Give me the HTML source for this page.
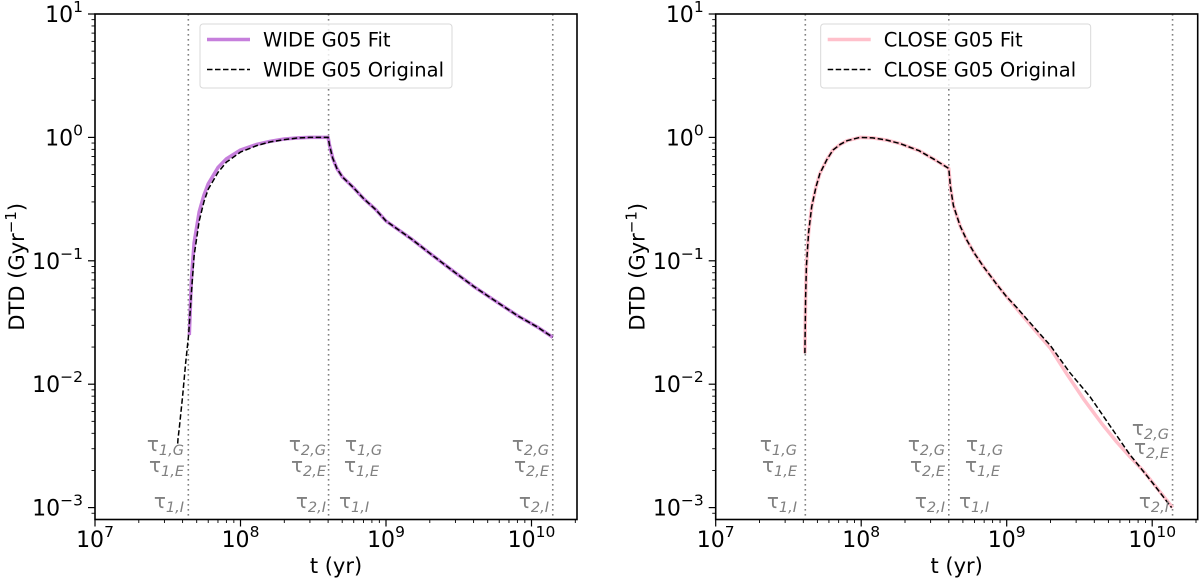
<!DOCTYPE html>
<html><head><meta charset="utf-8"><style>
html,body{margin:0;padding:0;background:#fff;}
svg{display:block;font-family:"DejaVu Sans","Liberation Sans",sans-serif;}
</style></head><body>
<svg id="fig" width="1200" height="581" viewBox="0 0 1200 581"></svg>
<script>
// ---- data ----
const wideFitT = [4.45e7,4.6e7,4.8e7,5.2e7,5.6e7,6e7,7e7,8e7,1e8,1.3e8,1.6e8,2e8,2.5e8,3e8,4e8,4.1e8,4.3e8,4.6e8,5e8,6e8,7e8,8.5e8,1e9,1.5e9,2e9,3e9,4e9,6e9,8e9,1.1e10,1.4e10];
const wideFitV = [0.025,0.07,0.14,0.25,0.34,0.42,0.57,0.67,0.79,0.88,0.93,0.97,0.99,1.0,1.0,0.85,0.68,0.56,0.48,0.39,0.32,0.26,0.21,0.15,0.115,0.08,0.062,0.045,0.036,0.029,0.024];
const wideOrigT = [3.7e7,3.72e7,3.8e7,4e7,4.2e7,4.4e7,4.6e7,4.8e7,5.2e7,5.6e7,6e7,7e7,8e7,1e8,1.3e8,1.6e8,2e8,2.5e8,3e8,4e8,4.1e8,4.3e8,4.6e8,5e8,6e8,7e8,8.5e8,1e9,1.5e9,2e9,3e9,4e9,6e9,8e9,1.1e10,1.4e10];
const wideOrigV = [0.0033,0.0036,0.0045,0.008,0.015,0.025,0.055,0.11,0.21,0.3,0.38,0.52,0.63,0.76,0.86,0.92,0.96,0.99,1.0,1.0,0.85,0.68,0.56,0.48,0.39,0.32,0.26,0.21,0.15,0.115,0.08,0.062,0.045,0.036,0.029,0.024];
const closeFitT = [4.1e7,4.15e7,4.2e7,4.35e7,4.57e7,4.9e7,5.2e7,5.8e7,6.4e7,7.2e7,8e7,9.8e7,1.2e8,1.5e8,1.85e8,2.5e8,3.2e8,4e8,4.1e8,4.3e8,4.8e8,5.3e8,6e8,6.9e8,8.5e8,1e9,1.17e9,1.5e9,2e9,2.6e9,3.37e9,4.5e9,5.7e9,7e9,8.65e9,1.1e10,1.38e10];
const closeFitV = [0.0178,0.05,0.09,0.17,0.275,0.4,0.51,0.66,0.79,0.88,0.94,1.0,0.99,0.95,0.89,0.78,0.66,0.56,0.4,0.28,0.19,0.148,0.115,0.09,0.065,0.051,0.041,0.029,0.0195,0.012,0.0076,0.0048,0.0034,0.0026,0.002,0.0014,0.001];
const closeOrigT = [4.1e7,4.15e7,4.2e7,4.35e7,4.57e7,4.9e7,5.2e7,5.8e7,6.4e7,7.2e7,8e7,9.8e7,1.2e8,1.5e8,1.85e8,2.5e8,3.2e8,4e8,4.1e8,4.3e8,4.8e8,5.3e8,6e8,6.9e8,8.5e8,1e9,1.17e9,1.5e9,2e9,2.7e9,3.74e9,5e9,7e9,1e10,1.36e10];
const closeOrigV = [0.0178,0.05,0.09,0.17,0.275,0.4,0.51,0.66,0.79,0.88,0.94,1.0,0.99,0.95,0.89,0.78,0.66,0.56,0.4,0.28,0.19,0.148,0.115,0.09,0.065,0.051,0.042,0.03,0.0205,0.0125,0.0079,0.0048,0.0027,0.0016,0.001];
const wideVlines = [4.38e7,4.03e8,1.4e10];
const closeVlines = [4.13e7,4.0e8,1.38e10];
const xTickExps = [7,8,9,10];
const yTickExps = [1,0,-1,-2,-3];

const NS="http://www.w3.org/2000/svg";
const svg=document.getElementById('fig');
function mk(tag,attrs,parent){const e=document.createElementNS(NS,tag);for(const k in attrs)e.setAttribute(k,attrs[k]);(parent||svg).appendChild(e);return e;}

function panel(cfg){
  const L=cfg.left, R=cfg.left+482, T=14, B=519.5;
  const xmin=7, xmax=7+(R-L)/145.5, ymax=1, ymin=1-(B-T)/123.4;
  const X=t=>L+(Math.log10(t)-xmin)/(xmax-xmin)*(R-L);
  const Y=v=>T+(ymax-Math.log10(v))/(ymax-ymin)*(B-T);
  const g=mk('g',{});
  
  
  cfg.vlines.forEach((t,i)=>{
    const l=mk('line',{x1:X(t),x2:X(t),y1:T,y2:B,stroke:'#808080','stroke-width':1.6,'stroke-dasharray':'1.6,3.4'},g);
    
    
  });
  const path=(ts,vs)=>ts.map((t,i)=>(i?'L':'M')+X(t).toFixed(1)+','+Y(vs[i]).toFixed(1)).join('');
  const f=mk('path',{d:path(cfg.fitT,cfg.fitV),fill:'none',stroke:cfg.color,'stroke-width':3.5,'stroke-linejoin':'round'},g);
  
  
  const o=mk('path',{d:path(cfg.origT,cfg.origV),fill:'none',stroke:'#000','stroke-width':1.5,'stroke-dasharray':'5.5,2.5'},g);
  
  
  cfg.labels.forEach(lb=>{
    const t=mk('text',{x:lb[0],y:lb[1],'font-size':20,fill:'#808080','text-anchor':lb[3]},g);
    
    
    const a=mk('tspan',{},t);a.textContent='τ';
    const b=mk('tspan',{dy:4,'font-size':14.5,'font-style':'italic'},t);b.textContent=lb[2];
  });
  const sp=mk('rect',{x:L,y:T,width:R-L,height:B-T,fill:'none',stroke:'#000','stroke-width':1.6},g);
  
  
  xTickExps.forEach(e=>{
    const x=X(Math.pow(10,e));
    mk('line',{x1:x,x2:x,y1:B,y2:B+7,stroke:'#000','stroke-width':1.2},g);
    const t=mk('text',{x:x,y:547,'font-size':22,'text-anchor':'middle'},g);
    
    
    t.textContent='10';
    const s=mk('tspan',{dy:-10,'font-size':15.5},t);s.textContent=String(e);
  });
  for(let e=7;e<=10;e++)for(let m=2;m<=9;m++){const t=m*Math.pow(10,e);if(Math.log10(t)>xmax)continue;const x=X(t);mk('line',{x1:x,x2:x,y1:B,y2:B+3.5,stroke:'#000','stroke-width':0.9},g);}
  yTickExps.forEach(e=>{
    const y=Y(Math.pow(10,e));
    mk('line',{x1:L-7,x2:L,y1:y,y2:y,stroke:'#000','stroke-width':1.2},g);
    const t=mk('text',{x:L-12,y:y+8,'font-size':22,'text-anchor':'end'},g);
    
    
    t.textContent='10';
    const s=mk('tspan',{dy:-10,'font-size':15.5},t);s.textContent=e<0?'\u2212'+(-e):String(e);
  });
  for(let e=-4;e<=0;e++)for(let m=2;m<=9;m++){const v=m*Math.pow(10,e);const lv=Math.log10(v);if(lv<ymin||lv>ymax)continue;const y=Y(v);mk('line',{x1:L-3.5,x2:L,y1:y,y2:y,stroke:'#000','stroke-width':0.9},g);}
  const xt=mk('text',{x:(L+R)/2,y:573,'font-size':21,'text-anchor':'middle'},g);
  
  
  xt.textContent='t (yr)';
  const yt=mk('text',{x:0,y:0,'font-size':21,'text-anchor':'middle',transform:`translate(${L-71},${(T+B)/2}) rotate(-90)`},g);
  
  
  yt.textContent='DTD (Gyr';
  const ys=mk('tspan',{dy:-8,'font-size':15},yt);ys.textContent='\u22121';
  const ye=mk('tspan',{dy:8},yt);ye.textContent=')';
  const lx=L+105, lw=cfg.legendW;
  const lg=mk('g',{},g);
  
  
  mk('rect',{x:lx,y:24,width:lw,height:64,rx:3,fill:'#fff','fill-opacity':0.8,stroke:'#d9d9d9','stroke-width':1},lg);
  mk('line',{x1:lx+7,x2:lx+50,y1:39.5,y2:39.5,stroke:cfg.color,'stroke-width':3.5},lg);
  mk('line',{x1:lx+7,x2:lx+50,y1:69.5,y2:69.5,stroke:'#000','stroke-width':1.5,'stroke-dasharray':'5.5,2.5'},lg);
  const e1=mk('text',{x:lx+63,y:46.5,'font-size':19.5},lg);e1.textContent=cfg.label+' G05 Fit';
  
  
  const e2=mk('text',{x:lx+63,y:76.5,'font-size':19.5},lg);e2.textContent=cfg.label+' G05 Original';
  
  
}

panel({name:'wide',label:'WIDE',left:95,color:'#c67fdc',fitT:wideFitT,fitV:wideFitV,origT:wideOrigT,origV:wideOrigV,vlines:wideVlines,legendW:252,
 labels:[[184,451,'1,G','end'],[184,472,'1,E','end'],[184,508,'1,I','end'],
         [326,451,'2,G','end'],[326,472,'2,E','end'],[326,508,'2,I','end'],
         [345,451,'1,G','start'],[344,472,'1,E','start'],[339,508,'1,I','start'],
         [549,451,'2,G','end'],[549,472,'2,E','end'],[549,508,'2,I','end']]});
panel({name:'close',label:'CLOSE',left:715.7,color:'#ffc0cb',fitT:closeFitT,fitV:closeFitV,origT:closeOrigT,origV:closeOrigV,vlines:closeVlines,legendW:270,
 labels:[[797,451,'1,G','end'],[797,472,'1,E','end'],[797,508,'1,I','end'],
         [945,451,'2,G','end'],[945,472,'2,E','end'],[945,508,'2,I','end'],
         [966,451,'1,G','start'],[965,472,'1,E','start'],[959,508,'1,I','start'],
         [1169,435,'2,G','end'],[1169,454,'2,E','end'],[1169,508,'2,I','end']]});
</script>
</body></html>
